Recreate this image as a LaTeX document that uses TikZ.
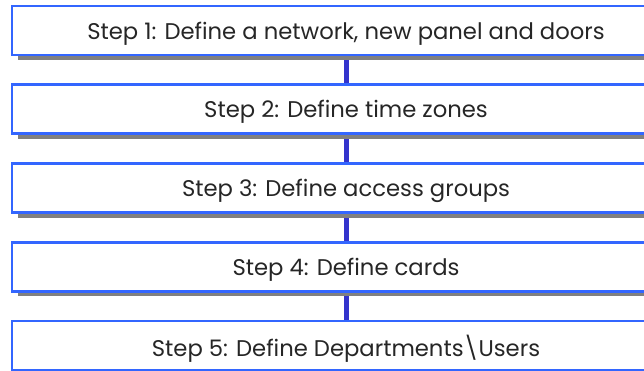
\documentclass[tikz,border=0pt]{standalone}
\usepackage{fontspec}
\setmainfont{Poppins}
\usetikzlibrary{shadows,backgrounds}
\definecolor{boxblue}{HTML}{3366FF}
\definecolor{connblue}{HTML}{3333CC}
\definecolor{shadowgray}{HTML}{808080}
\newcommand{\steptxt}[1]{\raisebox{-3pt}[\height][\depth]{#1}}
\begin{document}
\begin{tikzpicture}[x=1pt,y=-1pt,
  stepbox/.style={draw=boxblue, line width=2.5pt, fill=white, anchor=north west,
    minimum width=668pt, minimum height=49pt, inner sep=0pt, outer sep=0pt,
    font=\fontsize{22.7}{26}\selectfont, text=black!85,
    drop shadow={shadow xshift=6pt, shadow yshift=-5pt, fill=shadowgray, opacity=1}},
  conn/.style={draw=connblue, line width=5pt}]
\useasboundingbox (0,0) rectangle (644,371);
\clip (0,0) rectangle (644,371);
\node[stepbox] (s1) at (12,6) {\steptxt{Step 1: Define a network, new panel and doors}};
\node[stepbox] (s2) at (12,84.75) {\steptxt{Step 2: Define time zones}};
\node[stepbox] (s3) at (12,163.5) {\steptxt{Step 3: Define access groups}};
\node[stepbox] (s4) at (12,242.25) {\steptxt{Step 4: Define cards}};
\node[stepbox] (s5) at (12,321) {\steptxt{Step 5: Define Departments\textbackslash Users}};
\begin{scope}[on background layer]
\draw[conn] (s1.south) -- (s2.north);
\draw[conn] (s2.south) -- (s3.north);
\draw[conn] (s3.south) -- (s4.north);
\draw[conn] (s4.south) -- (s5.north);
\end{scope}
\end{tikzpicture}
\end{document}
